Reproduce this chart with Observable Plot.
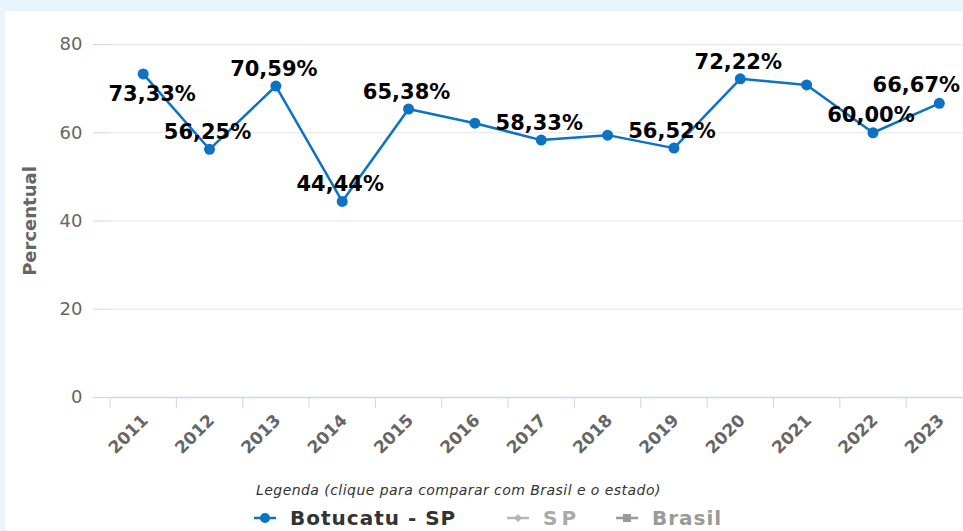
<!DOCTYPE html>
<html><head><meta charset="utf-8">
<script src="https://cdn.jsdelivr.net/npm/d3@7"></script>
<script src="https://cdn.jsdelivr.net/npm/@observablehq/plot@0.6"></script>
<style>
html,body{margin:0;padding:0;width:963px;height:531px;overflow:hidden;background:#e9f5fe;font-family:"DejaVu Sans",sans-serif}
#panel{position:absolute;left:5px;top:11px;right:0;bottom:0;background:#fff}
#chart{position:absolute;left:0;top:0}
#legendTitle{position:absolute;left:256px;top:482px;font-size:14px;letter-spacing:0.45px;font-style:italic;color:#333;white-space:nowrap}
#legend{position:absolute;left:254px;top:505px;height:26px;white-space:nowrap;font-weight:bold;font-size:20px;letter-spacing:1px}
.item{position:absolute;top:0;display:flex;align-items:center;height:26px}
.item svg{margin-right:14px}
</style></head><body>
<div id="panel"></div>
<div id="chart"></div>
<div id="legendTitle"></div>
<div id="legend"></div>
<script>
const years = [2011, 2012, 2013, 2014, 2015, 2016, 2017, 2018, 2019, 2020, 2021, 2022, 2023];
const values = [73.33, 56.25, 70.59, 44.44, 65.38, 62.16, 58.33, 59.46, 56.52, 72.22, 70.83, 60.00, 66.67];
const labeledYears = [2011, 2012, 2013, 2014, 2015, 2017, 2019, 2020, 2022, 2023];
const yTicks = [0, 20, 40, 60, 80];
const seriesNames = ["Botucatu - SP", "SP", "Brasil"];
const yTitle = "Percentual";
const legendTitle = "Legenda (clique para comparar com Brasil e o estado)";

const blue = "#0b72c4";
const data = years.map((year, i) => ({year, value: values[i]}));
const labeled = data.filter(d => labeledYears.includes(d.year));
const fmt = v => v.toFixed(2).replace(".", ",") + "%";
const boundaries = years.map(y => y - 0.5);

const labelStyle = {x: "year", y: "value", text: d => fmt(d.value), fill: "#000", fontSize: 21, fontWeight: "bold", lineAnchor: "middle"};

const chart = Plot.plot({
  width: 963, height: 531,
  marginLeft: 110, marginRight: 0, marginTop: 44, marginBottom: 134,
  style: {background: "transparent", overflow: "visible", fontFamily: "DejaVu Sans"},
  x: {type: "linear", domain: [years[0] - 0.5, years[years.length - 1] + 0.5], range: [109.5, 972]},
  y: {domain: [yTicks[0], yTicks[yTicks.length - 1]], range: [397, 44]},
  marks: [
    Plot.gridY({ticks: yTicks.filter(v => v > 0), stroke: "#e6e6e6", strokeOpacity: 1}),
    Plot.ruleY([0], {stroke: "#ccd6eb", strokeWidth: 1.5}),
    Plot.axisY({ticks: yTicks, tickSize: 17, tickPadding: 11, stroke: "#ccd6eb", strokeOpacity: 1, fill: "#666", fontSize: 18, label: null}),
    Plot.axisX({ticks: boundaries, tickSize: 11, tickFormat: () => "", stroke: "#ccd6eb", strokeOpacity: 1, label: null}),
    Plot.axisX({ticks: years, tickSize: 0, tickPadding: 20, tickRotate: -45, tickFormat: d => String(d), fill: "#666", fontSize: 17, fontWeight: "bold", dx: 2, label: null}),
    Plot.text([yTitle], {frameAnchor: "left", textAnchor: "middle", dx: -80, rotate: -90, fill: "#666", fontSize: 18, fontWeight: "bold"}),
    Plot.line(data, {x: "year", y: "value", stroke: blue, strokeWidth: 2.5}),
    Plot.dot(data, {x: "year", y: "value", r: 5.5, fill: blue}),
    Plot.text(labeled.filter(d => d.year !== years[0] && d.year !== years[years.length - 1]), {...labelStyle, dx: -2, dy: -17}),
    Plot.text(labeled.filter(d => d.year === years[0]), {...labelStyle, dx: 9, dy: 20}),
    Plot.text(labeled.filter(d => d.year === years[years.length - 1]), {...labelStyle, dx: -23, dy: -18})
  ]
});
document.getElementById("chart").append(chart);

document.getElementById("legendTitle").textContent = legendTitle;
const legendItems = [
  {name: seriesNames[0], color: blue, textColor: "#333", left: 0, marker: "circle", spacing: 1},
  {name: seriesNames[1], color: "#b4b4b4", textColor: "#aaa", left: 253, marker: "diamond", spacing: 4},
  {name: seriesNames[2], color: "#999", textColor: "#999", left: 362, marker: "square", spacing: 1}
];
const leg = document.getElementById("legend");
for (const it of legendItems) {
  const div = document.createElement("div");
  div.className = "item";
  div.style.left = it.left + "px";
  div.style.letterSpacing = it.spacing + "px";
  let m;
  if (it.marker === "circle") m = `<circle cx="11" cy="8" r="5" fill="${it.color}"/>`;
  else if (it.marker === "diamond") m = `<path d="M11 4 L15 8 L11 12 L7 8 Z" fill="${it.color}"/>`;
  else m = `<rect x="7" y="4" width="8" height="8" fill="${it.color}"/>`;
  div.innerHTML = `<svg width="22" height="16"><line x1="0" x2="22" y1="8" y2="8" stroke="${it.color}" stroke-width="2.5"/>${m}</svg><span style="color:${it.textColor}">${it.name}</span>`;
  leg.append(div);
}
</script>
</body></html>
